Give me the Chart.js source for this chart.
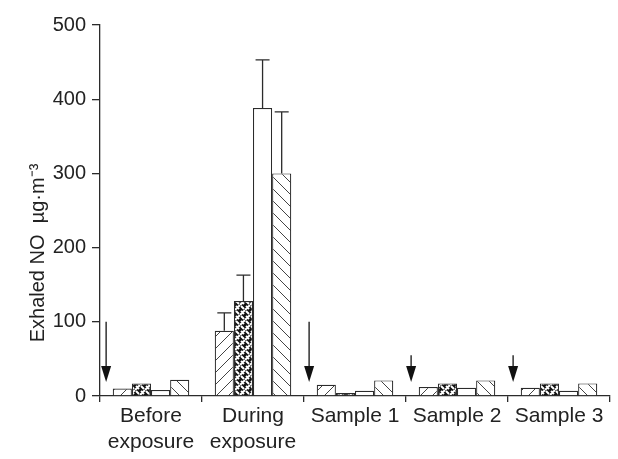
<!DOCTYPE html>
<html>
<head>
<meta charset="utf-8">
<script src="https://cdn.jsdelivr.net/npm/chart.js@4"></script>
<style>
  html, body { margin: 0; padding: 0; background: #fff; }
  #wrap { width: 618px; height: 459px; }
</style>
</head>
<body>
<div id="wrap"><canvas id="noChart" width="618" height="459"></canvas></div>
<script>
// --- data ---
const categories = [['Before', 'exposure'], ['During', 'exposure'], 'Sample 1', 'Sample 2', 'Sample 3'];
const series1 = [10, 88, 15, 12, 11];
const series2 = [17, 128, 4, 17, 17];
const series3 = [8, 388, 7, 11, 7];
const series4 = [22, 300, 21, 21, 17];
const errors1 = [0, 24, 0, 0, 0];
const errors2 = [0, 35, 0, 0, 0];
const errors3 = [0, 65, 0, 0, 0];
const errors4 = [0, 83, 0, 0, 0];
const yTicks = [0, 100, 200, 300, 400, 500];
// arrows between groups: category position, start value, tip value
const arrowX = [-0.44, 1.55, 2.55, 3.55];
const arrowFrom = [100, 100, 55, 55];
const arrowTo = [19, 19, 19, 19];

const INK = '#2b2b2b';
const FONT = "'Liberation Sans', Arial, sans-serif";

// 1. FILL PATTERNS
function hatch(dir) {
  const c = document.createElement('canvas');
  c.width = 12; c.height = 12;
  const g = c.getContext('2d');
  g.fillStyle = '#fff';
  g.fillRect(0, 0, 12, 12);
  g.strokeStyle = '#444';
  g.lineWidth = 1;
  g.beginPath();
  if (dir === 'up') {
    g.moveTo(-1, 13); g.lineTo(13, -1);
  } else {
    g.moveTo(-1, -1); g.lineTo(13, 13);
  }
  g.stroke();
  return g.createPattern(c, 'repeat');
}

function weave() {
  const c = document.createElement('canvas');
  c.width = 10; c.height = 10;
  const g = c.getContext('2d');
  g.fillStyle = '#111';
  g.fillRect(0, 0, 10, 10);
  g.strokeStyle = '#fff';
  g.lineWidth = 2;
  g.lineCap = 'butt';
  g.beginPath();
  g.moveTo(0, 5); g.lineTo(5, 0);
  g.moveTo(5, 10); g.lineTo(10, 5);
  g.moveTo(1, 1); g.lineTo(4, 4);
  g.moveTo(6, 6); g.lineTo(9, 9);
  g.moveTo(6, 1); g.lineTo(9, 4);
  g.moveTo(1, 6); g.lineTo(4, 9);
  g.stroke();
  return g.createPattern(c, 'repeat');
}

// 2. PLUGINS (error bars, arrows, y title)
const errorBars = {
  id: 'errorBars',
  afterDatasetsDraw(chart) {
    const ctx = chart.ctx;
    const ys = chart.scales.y;
    chart.data.datasets.forEach((ds, i) => {
      const meta = chart.getDatasetMeta(i);
      meta.data.forEach((bar, j) => {
        const e = ds.errors[j];
        if (!e) return;
        const top = ys.getPixelForValue(ds.data[j] + e);
        ctx.save();
        ctx.strokeStyle = INK;
        ctx.lineWidth = 1.3;
        ctx.beginPath();
        ctx.moveTo(bar.x, bar.y);
        ctx.lineTo(bar.x, top);
        ctx.moveTo(bar.x - 7, top);
        ctx.lineTo(bar.x + 7, top);
        ctx.stroke();
        ctx.restore();
      });
    });
  }
};

const arrows = {
  id: 'arrows',
  afterDatasetsDraw(chart) {
    const ctx = chart.ctx;
    const xs = chart.scales.x, ys = chart.scales.y;
    ctx.save();
    ctx.strokeStyle = '#111';
    ctx.fillStyle = '#111';
    ctx.lineWidth = 1.3;
    arrowX.forEach((ax, k) => {
      const px = xs.getPixelForValue(ax);
      const y0 = ys.getPixelForValue(arrowFrom[k]);
      const y1 = ys.getPixelForValue(arrowTo[k]);
      ctx.beginPath();
      ctx.moveTo(px, y0);
      ctx.lineTo(px, y1 - 14);
      ctx.stroke();
      ctx.beginPath();
      ctx.moveTo(px - 5, y1 - 16);
      ctx.lineTo(px + 5, y1 - 16);
      ctx.lineTo(px, y1);
      ctx.closePath();
      ctx.fill();
    });
    ctx.restore();
  }
};

const yTitle = {
  id: 'yTitle',
  afterDraw(chart) {
    const ctx = chart.ctx;
    ctx.save();
    ctx.translate(38, 253);
    ctx.rotate(-Math.PI / 2);
    ctx.fillStyle = '#222';
    ctx.font = '20px ' + FONT;
    ctx.textAlign = 'center';
    ctx.textBaseline = 'middle';
    ctx.fillText('Exhaled NO  \u00b5g\u00b7m\u207b\u00b3', 0, 0);
    ctx.restore();
  }
};

// 3. CHART
const fills = [hatch('up'), weave(), '#fff', hatch('down')];
const values = [series1, series2, series3, series4];
const errs = [errors1, errors2, errors3, errors4];

new Chart(document.getElementById('noChart'), {
  type: 'bar',
  data: {
    labels: categories,
    datasets: values.map((v, i) => ({
      data: v,
      errors: errs[i],
      backgroundColor: fills[i],
      borderColor: INK,
      borderWidth: 1.2,
      borderSkipped: 'bottom',
      barPercentage: 1.0,
      categoryPercentage: 0.75
    }))
  },
  options: {
    responsive: false,
    animation: false,
    layout: { padding: { top: 25, right: 8, left: 0, bottom: 0 } },
    plugins: { legend: { display: false }, tooltip: { enabled: false } },
    scales: {
      x: {
        offset: true,
        grid: { offset: true, drawOnChartArea: false, tickLength: 6, color: INK, lineWidth: 1.3 },
        border: { color: INK, width: 1.3 },
        ticks: { color: '#222', font: { size: 21, family: FONT }, padding: 2, maxRotation: 0, autoSkip: false },
        afterFit(s) { s.height = 63; }
      },
      y: {
        min: 0,
        max: 500,
        afterBuildTicks(s) { s.ticks = yTicks.map(v => ({ value: v })); },
        grid: { drawOnChartArea: false, tickLength: 8, color: INK, lineWidth: 1.3 },
        border: { color: INK, width: 1.3 },
        ticks: { color: '#222', font: { size: 20, family: FONT }, padding: 6 },
        afterFit(s) { s.width = 100; }
      }
    }
  },
  plugins: [errorBars, arrows, yTitle]
});
</script>
</body>
</html>
